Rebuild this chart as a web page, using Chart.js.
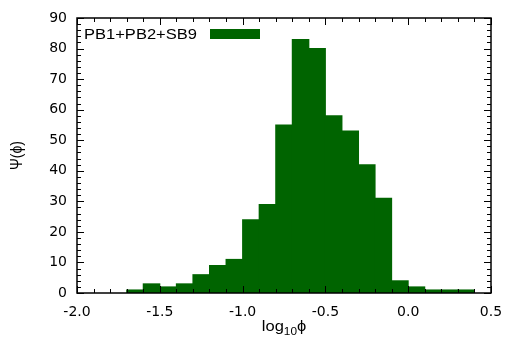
<!DOCTYPE html>
<html>
<head>
<meta charset="utf-8">
<script src="https://cdn.jsdelivr.net/npm/chart.js@4/dist/chart.umd.min.js"></script>
<style>
  html, body { margin: 0; padding: 0; background: #fff; }
  #wrap { width: 507px; height: 345px; position: relative; }
</style>
</head>
<body>
<div id="wrap"><canvas id="c" width="507" height="345"></canvas></div>
<script>
// Histogram bins of log10(phi), width 0.1, left edges
const binLeftEdges = [-1.7, -1.6, -1.5, -1.4, -1.3, -1.2, -1.1, -1.0, -0.9, -0.8,
                      -0.7, -0.6, -0.5, -0.4, -0.3, -0.2, -0.1, 0.0, 0.1, 0.2, 0.3];
const binWidth = 0.1;
// Counts per bin
const counts = [1, 3, 2, 3, 6, 9, 11, 24, 29, 55,
                83, 80, 58, 53, 42, 31, 4, 2, 1, 1, 1];
const seriesLabel = 'PB1+PB2+SB9';
const xTickValues = [-2.0, -1.5, -1.0, -0.5, 0.0, 0.5];
const yTickValues = [0, 10, 20, 30, 40, 50, 60, 70, 80, 90];

const FONT = '"Liberation Sans", Arial, Helvetica, sans-serif';
const TICK_FONT = '"DejaVu Sans", sans-serif';
const STRETCH = 1.18;           // wide lettering for key and titles
const GREEN = '#006400';

const points = binLeftEdges.map((e, i) => ({ x: +(e + binWidth / 2).toFixed(2), y: counts[i] }));

// Draw text with horizontal stretch, anchored at (x, y)
function wideText(ctx, txt, x, y, font) {
  ctx.save();
  ctx.font = font;
  ctx.translate(x, y);
  ctx.scale(STRETCH, 1);
  ctx.fillText(txt, 0, 0);
  ctx.restore();
}

// Inward ticks on all four sides, frame, axis titles and the key
const framePlugin = {
  id: 'frame',
  afterDatasetsDraw(chart) {
    const { ctx, chartArea: a, scales: { x, y } } = chart;
    ctx.save();
    ctx.strokeStyle = '#000';
    ctx.lineWidth = 1;
    ctx.beginPath();
    // x ticks: minor every 0.1, major every 0.5
    for (let k = -20; k <= 5; k++) {
      const px = Math.round(x.getPixelForValue(k / 10)) + 0.5;
      const len = (k % 5 === 0) ? 7 : 4;
      ctx.moveTo(px, a.bottom); ctx.lineTo(px, a.bottom - len);
      ctx.moveTo(px, a.top); ctx.lineTo(px, a.top + len);
    }
    // y ticks: minor every 2, major every 10
    for (let v = 0; v <= 90; v += 2) {
      const py = Math.round(y.getPixelForValue(v)) + 0.5;
      const len = (v % 10 === 0) ? 7 : 4;
      ctx.moveTo(a.left, py); ctx.lineTo(a.left + len, py);
      ctx.moveTo(a.right, py); ctx.lineTo(a.right - len, py);
    }
    ctx.stroke();
    ctx.lineWidth = 1.5;
    ctx.strokeRect(a.left, a.top, a.right - a.left, a.bottom - a.top);

    // key
    ctx.fillStyle = '#000';
    ctx.textAlign = 'left';
    ctx.textBaseline = 'alphabetic';
    wideText(ctx, seriesLabel, 84, 39, '14px ' + FONT);
    ctx.fillStyle = GREEN;
    ctx.fillRect(210, 29, 50, 10);

    // x axis title: log10 phi
    ctx.fillStyle = '#000';
    const cx = (a.left + a.right) / 2;
    const base = 331;
    ctx.font = '14px ' + FONT;
    const w1 = ctx.measureText('log').width * STRETCH;
    ctx.font = '10px ' + FONT;
    const w2 = ctx.measureText('10').width * STRETCH;
    ctx.font = '14px ' + FONT;
    const w3 = ctx.measureText('\u03D5').width * STRETCH;
    const sx = cx - (w1 + w2 + w3) / 2;
    wideText(ctx, 'log', sx, base, '14px ' + FONT);
    wideText(ctx, '10', sx + w1, base + 4, '10px ' + FONT);
    wideText(ctx, '\u03D5', sx + w1 + w2, base, '14px ' + FONT);

    // y axis title
    ctx.translate(17, (a.top + a.bottom) / 2);
    ctx.scale(STRETCH, 1);
    ctx.rotate(-Math.PI / 2);
    ctx.font = '14px ' + FONT;
    ctx.textAlign = 'center';
    ctx.textBaseline = 'middle';
    ctx.fillText('\u03A8(\u03D5)', 0, 0);
    ctx.restore();
  }
};

new Chart(document.getElementById('c'), {
  type: 'bar',
  data: {
    datasets: [{
      label: seriesLabel,
      data: points,
      backgroundColor: GREEN,
      borderWidth: 0,
      inflateAmount: 0.5,
      barPercentage: 1.0,
      categoryPercentage: 1.0,
      grouped: false
    }]
  },
  options: {
    responsive: false,
    animation: false,
    devicePixelRatio: 1,
    layout: { padding: { top: 18, right: 16, left: 0, bottom: 0 } },
    plugins: { legend: { display: false }, tooltip: { enabled: false } },
    scales: {
      x: {
        type: 'linear',
        min: -2.0,
        max: 0.5,
        offset: false,
        grid: { display: false, drawTicks: false },
        border: { display: false },
        afterFit(s) { s.height = 52; s.paddingLeft = 0; s.paddingRight = 0; },
        afterBuildTicks(s) { s.ticks = xTickValues.map(v => ({ value: v })); },
        ticks: {
          padding: 11,
          color: '#000',
          font: { family: TICK_FONT, size: 14 },
          maxRotation: 0,
          autoSkip: false,
          callback: v => Number(v).toFixed(1)
        }
      },
      y: {
        min: 0,
        max: 90,
        grid: { display: false, drawTicks: false },
        border: { display: false },
        afterFit(s) { s.width = 77; s.paddingTop = 0; s.paddingBottom = 0; },
        afterBuildTicks(s) { s.ticks = yTickValues.map(v => ({ value: v })); },
        ticks: {
          padding: 10,
          color: '#000',
          font: { family: TICK_FONT, size: 14 },
          autoSkip: false
        }
      }
    }
  },
  plugins: [framePlugin]
});
</script>
</body>
</html>
